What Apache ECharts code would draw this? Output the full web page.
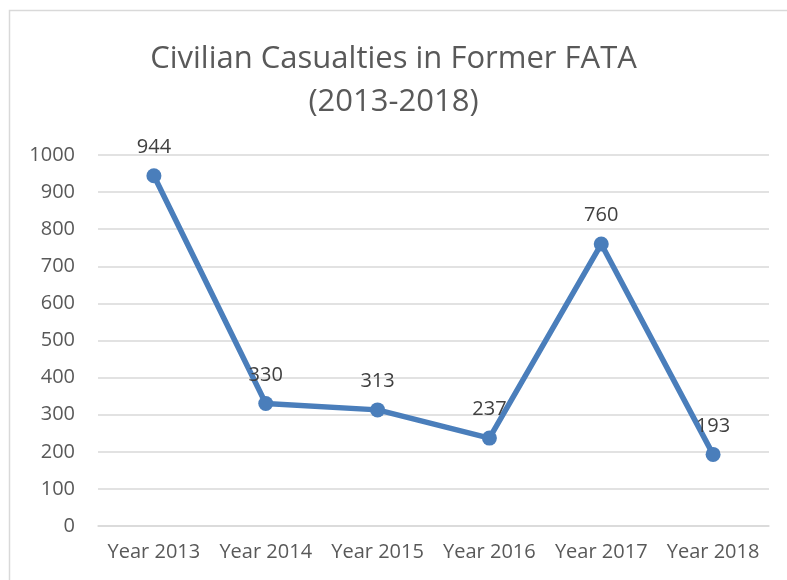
<!DOCTYPE html>
<html>
<head>
<meta charset="utf-8">
<script src="https://cdn.jsdelivr.net/npm/echarts@6/dist/echarts.min.js"></script>
<style>
  html, body { margin: 0; padding: 0; background: #fff; }
  #chart { width: 787px; height: 580px; }
</style>
</head>
<body>
<div id="chart"></div>
<script>
var years = ['Year 2013', 'Year 2014', 'Year 2015', 'Year 2016', 'Year 2017', 'Year 2018'];
var casualties = [944, 330, 313, 237, 760, 193];

var dom = document.getElementById("chart");
var myChart = echarts.init(dom);

var option = {
    backgroundColor: '#fff',
    textStyle: { fontFamily: 'Open Sans' },
    title: {
        text: 'Civilian Casualties in Former FATA\n(2013-2018)',
        left: 'center',
        top: 33,
        textStyle: {
            fontFamily: 'Open Sans',
            fontWeight: 'normal',
            fontSize: 31,
            lineHeight: 43,
            color: '#595959'
        }
    },
    graphic: [{
        type: 'rect',
        shape: { x: 9.5, y: 10.5, width: 800, height: 600 },
        style: { fill: 'none', stroke: '#d9d9d9', lineWidth: 1.5 },
        silent: true
    }],
    grid: {
        left: 98,
        right: 18,
        top: 155,
        bottom: 54
    },
    xAxis: {
        type: 'category',
        data: years,
        boundaryGap: true,
        axisLine: { lineStyle: { color: '#d9d9d9', width: 1.5 } },
        axisTick: { show: false },
        axisLabel: {
            color: '#595959',
            fontSize: 20,
            margin: 16,
            interval: 0
        }
    },
    yAxis: {
        type: 'value',
        min: 0,
        max: 1000,
        interval: 100,
        axisLine: { show: false },
        axisTick: { show: false },
        axisLabel: {
            color: '#595959',
            fontSize: 20,
            margin: 23,
            formatter: function (v) { return String(v); }
        },
        splitLine: { lineStyle: { color: '#d9d9d9', width: 1.5 } }
    },
    series: [{
        name: 'Civilian Casualties',
        type: 'line',
        data: casualties,
        symbol: 'circle',
        symbolSize: 15,
        lineStyle: { color: '#4a7ebb', width: 5.5 },
        itemStyle: { color: '#4a7ebb' },
        label: {
            show: true,
            position: 'top',
            distance: 11,
            color: '#404040',
            fontSize: 20
        }
    }]
};

myChart.setOption(option);
</script>
</body>
</html>
